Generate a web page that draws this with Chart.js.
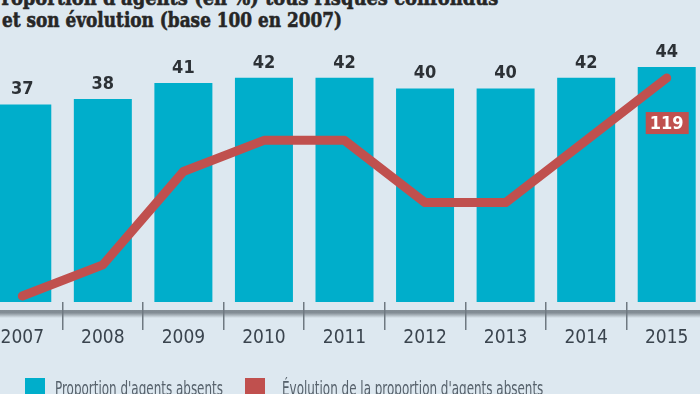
<!DOCTYPE html>
<html>
<head>
<meta charset="utf-8">
<script src="https://cdn.jsdelivr.net/npm/chart.js@4.4.1/dist/chart.umd.min.js"></script>
<style>
html, body { margin: 0; padding: 0; width: 700px; height: 394px; overflow: hidden; background: #dde8f0; }
#wrap { position: absolute; left: -18px; top: 0; width: 725px; height: 394px; }
.title { position: absolute; font-family: 'DejaVu Serif'; font-weight: bold; font-size: 21px; line-height: normal; color: #262626; white-space: nowrap; transform-origin: 0 0; -webkit-text-stroke: 0.6px #262626; }
#t1 { left: -12px; top: -15px; }
#t2 { left: 2px; top: 7px; }
.box { position: absolute; width: 20px; height: 20px; top: 378px; }
.lab { position: absolute; top: 377px; font-family: 'DejaVu Sans Condensed', sans-serif; font-size: 19px; line-height: normal; color: #56616b; white-space: nowrap; transform-origin: 0 0; }
</style>
</head>
<body>
<div class="title" id="t1">Proportion d'agents (en %) tous risques confondus</div>
<div class="title" id="t2">et son évolution (base 100 en 2007)</div>
<div id="wrap"><canvas id="chart"></canvas></div>
<div class="box" style="left:25px;background:#00aecb"></div>
<div class="lab" id="l1" style="left:55px">Proportion d'agents absents</div>
<div class="box" style="left:245px;background:#c0504e"></div>
<div class="lab" id="l2" style="left:282px">Évolution de la proportion d'agents absents</div>
<script>
var years = ['2007', '2008', '2009', '2010', '2011', '2012', '2013', '2014', '2015'];
var shares = [37, 38, 41, 42, 42, 40, 40, 42, 44];
var evolution = [100, 102.7, 110.8, 113.5, 113.5, 108.1, 108.1, 113.5, 118.9];
var lastLabel = '119';

var barBlue = '#00aecb';
var lineRed = '#c0504e';

// squeeze text horizontally to the width it has in the picture
function fitWidth(id, w) {
  var el = document.getElementById(id);
  el.style.transform = 'scaleX(' + (w / el.offsetWidth) + ')';
}
fitWidth('t1', 510);
fitWidth('t2', 340);
fitWidth('l1', 168);
fitWidth('l2', 261);

// valeurs au-dessus des barres + etiquette 119 + ligne d'axe grise
var extras = {
  id: 'extras',
  beforeDraw: function(chart) {
    var ctx = chart.ctx;
    ctx.save();
    var g = ctx.createLinearGradient(0, 310, 0, 318);
    g.addColorStop(0, 'rgba(120,130,138,0.9)');
    g.addColorStop(0.35, 'rgba(120,130,138,0.9)');
    g.addColorStop(1, 'rgba(120,130,138,0)');
    ctx.fillStyle = g;
    ctx.fillRect(0, 310, chart.width, 8);
    ctx.restore();
  },
  afterDatasetsDraw: function(chart) {
    var ctx = chart.ctx;
    ctx.save();
    ctx.font = 'bold 18px "DejaVu Sans Condensed"';
    ctx.fillStyle = '#2c3136';
    ctx.textAlign = 'center';
    ctx.textBaseline = 'alphabetic';
    chart.getDatasetMeta(0).data.forEach(function(bar, i) {
      ctx.fillText(shares[i], bar.x, bar.y - 10);
    });
    var pts = chart.getDatasetMeta(1).data;
    var last = pts[pts.length - 1];
    ctx.fillStyle = lineRed;
    ctx.fillRect(last.x - 21, last.y + 34, 43, 22);
    ctx.fillStyle = '#ffffff';
    ctx.textBaseline = 'middle';
    ctx.fillText(lastLabel, last.x, last.y + 46);
    ctx.restore();
  }
};

new Chart(document.getElementById('chart'), {
  data: {
    labels: years,
    datasets: [
      {
        type: 'bar',
        label: "Proportion d'agents absents",
        data: shares,
        backgroundColor: barBlue,
        barPercentage: 0.72,
        categoryPercentage: 1,
        yAxisID: 'y',
        order: 2
      },
      {
        type: 'line',
        label: "Évolution de la proportion d'agents absents",
        data: evolution,
        borderColor: lineRed,
        borderWidth: 9,
        pointRadius: 0,
        tension: 0,
        borderJoinStyle: 'round',
        borderCapStyle: 'round',
        yAxisID: 'y1',
        order: 1
      }
    ]
  },
  options: {
    responsive: true,
    maintainAspectRatio: false,
    animation: false,
    layout: { padding: { top: 40, left: 0, right: 0, bottom: 0 } },
    plugins: {
      legend: { display: false },
      tooltip: { enabled: false }
    },
    scales: {
      x: {
        grid: { drawOnChartArea: false, drawTicks: true, tickLength: 28, offset: true, color: '#6f7981', lineWidth: 1.5 },
        border: { display: false },
        ticks: {
          color: '#3a444e',
          padding: -3,
          font: { family: "'DejaVu Sans Condensed', sans-serif", size: 19 }
        },
        afterFit: function(scale) { scale.height = 92; }
      },
      y: { display: false, min: 0, max: 49.06 },
      y1: { display: false, position: 'right', min: 99.48, max: 122.2 }
    }
  },
  plugins: [extras]
});
</script>
</body>
</html>
